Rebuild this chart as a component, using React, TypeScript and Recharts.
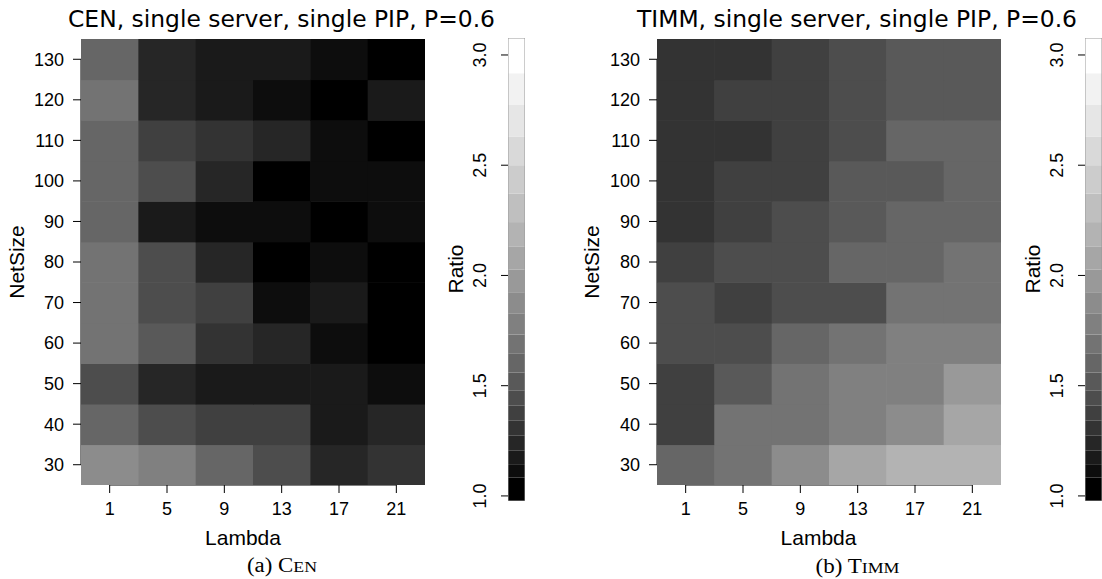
import React from "react";
import { ReferenceArea, ReferenceLine, Scatter, ScatterChart, XAxis, YAxis } from "recharts";

const LAMBDAS = [1, 5, 9, 13, 17, 21];
const NET_SIZES = [30, 40, 50, 60, 70, 80, 90, 100, 110, 120, 130];
const RATIO_TICKS = [1, 1.5, 2, 2.5, 3];

// Ratio, one row per NetSize (30 -> 130), columns follow LAMBDAS
const CEN_RATIO = [
  [1.87, 1.78, 1.6, 1.44, 1.24, 1.31],
  [1.6, 1.44, 1.38, 1.38, 1.17, 1.24],
  [1.44, 1.24, 1.17, 1.17, 1.17, 1.11],
  [1.69, 1.52, 1.31, 1.24, 1.11, 1.03],
  [1.69, 1.44, 1.38, 1.11, 1.17, 1.03],
  [1.69, 1.44, 1.24, 1.03, 1.11, 1.03],
  [1.6, 1.17, 1.11, 1.11, 1.03, 1.11],
  [1.6, 1.44, 1.24, 1.03, 1.11, 1.11],
  [1.6, 1.38, 1.31, 1.24, 1.11, 1.03],
  [1.69, 1.24, 1.17, 1.11, 1.03, 1.17],
  [1.6, 1.24, 1.17, 1.17, 1.11, 1.03],
];

const TIMM_RATIO = [
  [1.6, 1.69, 1.87, 2.08, 2.19, 2.19],
  [1.38, 1.69, 1.69, 1.78, 1.87, 2.08],
  [1.38, 1.52, 1.69, 1.78, 1.78, 1.97],
  [1.44, 1.44, 1.6, 1.69, 1.78, 1.78],
  [1.44, 1.38, 1.44, 1.44, 1.69, 1.69],
  [1.38, 1.44, 1.44, 1.6, 1.6, 1.69],
  [1.31, 1.38, 1.44, 1.52, 1.6, 1.6],
  [1.31, 1.38, 1.38, 1.52, 1.52, 1.6],
  [1.31, 1.31, 1.38, 1.44, 1.6, 1.6],
  [1.31, 1.38, 1.38, 1.44, 1.52, 1.52],
  [1.31, 1.31, 1.38, 1.44, 1.52, 1.52],
];

// grey bands of the colour key (black at the bottom, white at the top)
const KEY_BREAKS = [
  0.977, 1.083, 1.144, 1.205, 1.273, 1.341, 1.409, 1.477, 1.56, 1.647, 1.732,
  1.826, 1.924, 2.026, 2.132, 2.242, 2.371, 2.5, 2.629, 2.773, 2.917, 3.077,
];

const PLOT_W = 344;
const PLOT_H = 446;
const CELL_W = PLOT_W / LAMBDAS.length;
const CELL_H = PLOT_H / NET_SIZES.length;
const SANS = "'Liberation Sans', Arial, sans-serif";

function greyFor(v: number) {
  let k = 0;
  for (let i = 0; i < KEY_BREAKS.length - 1; i++) if (v >= KEY_BREAKS[i]) k = i;
  const g = Math.round((255 * k) / (KEY_BREAKS.length - 2));
  return `rgb(${g},${g},${g})`;
}

function toCells(table: number[][]) {
  const out: { lambda: number; netSize: number; ratio: number }[] = [];
  NET_SIZES.forEach((n, i) =>
    LAMBDAS.forEach((l, j) => out.push({ lambda: l, netSize: n, ratio: table[i][j] }))
  );
  return out;
}

function HeatPanel({ table, left }: { table: number[][]; left: number }) {
  const cells = toCells(table);
  const tick = { fill: "#000", fontSize: 18, fontFamily: SANS };
  return (
    <div style={{ position: "absolute", left, top: 0 }}>
      <ScatterChart width={430} height={579} margin={{ top: 39, right: 5, bottom: 0, left: 0 }}>
        <XAxis
          type="number"
          dataKey="lambda"
          domain={[-1, 23]}
          ticks={LAMBDAS}
          interval={0}
          allowDataOverflow
          axisLine={false}
          tickSize={8}
          tickMargin={9}
          height={94}
          tick={tick}
          tickLine={{ stroke: "#000" }}
        />
        <YAxis
          type="number"
          dataKey="netSize"
          domain={[25, 135]}
          ticks={NET_SIZES}
          interval={0}
          allowDataOverflow
          axisLine={false}
          tickSize={8}
          tickMargin={9}
          width={81}
          tick={tick}
          tickLine={{ stroke: "#000" }}
        />
        <Scatter
          data={cells}
          isAnimationActive={false}
          shape={(p: any) => (
            <rect
              x={p.cx - CELL_W / 2}
              y={p.cy - CELL_H / 2}
              width={CELL_W + 0.6}
              height={CELL_H + 0.6}
              fill={greyFor(p.payload.ratio)}
            />
          )}
        />
        <ReferenceLine segment={[{ x: -1, y: 30 }, { x: -1, y: 130 }]} stroke="#000" />
        <ReferenceLine segment={[{ x: 1, y: 25 }, { x: 21, y: 25 }]} stroke="#000" />
      </ScatterChart>
    </div>
  );
}

function KeyTick(p: any) {
  const { x, y, payload } = p;
  return (
    <text
      x={x}
      y={y}
      transform={`rotate(-90, ${x}, ${y})`}
      textAnchor="middle"
      fontSize={18}
      fontFamily={SANS}
      fill="#000"
    >
      {Number(payload.value).toFixed(1)}
    </text>
  );
}

function ColourKey({ left }: { left: number }) {
  const bands = KEY_BREAKS.slice(0, -1).map((lo, i) => ({
    x: 0.5,
    lo,
    hi: KEY_BREAKS[i + 1],
    mid: (lo + KEY_BREAKS[i + 1]) / 2,
  }));
  const lo = KEY_BREAKS[0];
  const hi = KEY_BREAKS[KEY_BREAKS.length - 1];
  return (
    <div style={{ position: "absolute", left, top: 0 }}>
      <ScatterChart width={130} height={579} margin={{ top: 38, right: 5, bottom: 78, left: 0 }}>
        <XAxis type="number" dataKey="x" domain={[0, 1]} hide />
        <YAxis
          type="number"
          dataKey="mid"
          domain={[lo, hi]}
          ticks={RATIO_TICKS}
          interval={0}
          allowDataOverflow
          axisLine={false}
          tickSize={7}
          tickMargin={15}
          width={108}
          tickLine={{ stroke: "#000" }}
          tick={(p: any) => <KeyTick {...p} />}
        />
        <Scatter data={bands} isAnimationActive={false} shape={() => <g />} />
        {bands.map((b, i) => (
          <ReferenceArea
            key={i}
            x1={0}
            x2={1}
            y1={b.lo}
            y2={b.hi}
            fill={greyFor(b.mid)}
            fillOpacity={1}
            stroke="none"
            ifOverflow="hidden"
          />
        ))}
        <ReferenceArea x1={0} x2={1} y1={lo} y2={hi} fill="none" stroke="#999" ifOverflow="hidden" />
      </ScatterChart>
    </div>
  );
}

export default function App() {
  const titleFont = "'DejaVu Sans', sans-serif";
  const serif = "'Liberation Serif', 'Times New Roman', serif";
  return (
    <div
      style={{
        position: "absolute",
        left: 0,
        top: 0,
        width: 1102,
        height: 579,
        overflow: "hidden",
        background: "#fff",
        fontFamily: SANS,
      }}
    >
      <HeatPanel table={CEN_RATIO} left={0} />
      <ColourKey left={400} />
      <HeatPanel table={TIMM_RATIO} left={576} />
      <ColourKey left={977} />
      <svg
        width={1102}
        height={579}
        style={{ position: "absolute", left: 0, top: 0, pointerEvents: "none" }}
      >
        <text x={281.5} y={27} textAnchor="middle" fontFamily={titleFont} fontSize={22.5} textLength={427} lengthAdjust="spacingAndGlyphs">
          CEN, single server, single PIP, P=0.6
        </text>
        <text x={857} y={27} textAnchor="middle" fontFamily={titleFont} fontSize={22.5} textLength={440} lengthAdjust="spacingAndGlyphs">
          TIMM, single server, single PIP, P=0.6
        </text>

        <text x={243} y={545} textAnchor="middle" fontFamily={SANS} fontSize={21}>Lambda</text>
        <text x={818.5} y={545} textAnchor="middle" fontFamily={SANS} fontSize={21}>Lambda</text>

        <text x={23.5} y={262} transform="rotate(-90, 23.5, 262)" textAnchor="middle" fontFamily={SANS} fontSize={21}>NetSize</text>
        <text x={599} y={262} transform="rotate(-90, 599, 262)" textAnchor="middle" fontFamily={SANS} fontSize={21}>NetSize</text>

        <text x={462.5} y={269} transform="rotate(-90, 462.5, 269)" textAnchor="middle" fontFamily={SANS} fontSize={21}>Ratio</text>
        <text x={1039.5} y={269} transform="rotate(-90, 1039.5, 269)" textAnchor="middle" fontFamily={SANS} fontSize={21}>Ratio</text>

        <text x={247} y={572} fontFamily={serif} fontSize={20} textLength={70} lengthAdjust="spacingAndGlyphs">
          (a) C<tspan fontSize={15.5}>EN</tspan>
        </text>
        <text x={815.5} y={573} fontFamily={serif} fontSize={20} textLength={84} lengthAdjust="spacingAndGlyphs">
          (b) T<tspan fontSize={15.5}>IMM</tspan>
        </text>
      </svg>
    </div>
  );
}
